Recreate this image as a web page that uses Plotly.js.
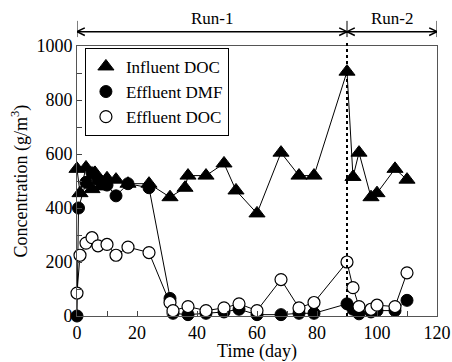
<!DOCTYPE html>
<html>
<head>
<meta charset="utf-8">
<script src="https://cdn.plot.ly/plotly-3.0.1.min.js"></script>
<style>html,body{margin:0;padding:0;background:#fff;}#chart{width:452px;height:362px;}</style>
</head>
<body>
<div id="chart"></div>
<script>
// Influent DOC (triangles)
const inflDays = [0, 1, 3, 5, 6, 8, 10, 13, 17, 24, 31, 36, 37, 43, 49, 53, 60, 68, 74, 79, 90, 92, 94, 98, 100, 106, 110];
const inflDOC  = [545, 455, 550, 470, 530, 480, 510, 505, 490, 490, 440, 475, 520, 520, 565, 465, 380, 605, 520, 520, 905, 515, 605, 440, 455, 545, 505];
// Effluent DMF (filled circles)
const dmfDays = [0, 0.5, 3, 5, 7, 10, 13, 17, 24, 31, 32, 37, 43, 49, 54, 60, 68, 74, 79, 90, 92, 94, 98, 100, 106, 110];
const effDMF  = [0, 400, 495, 530, 505, 485, 445, 490, 475, 65, 10, 5, 10, 15, 25, 5, 5, 10, 10, 45, 25, 8, 15, 20, 20, 58];
// Effluent DOC (open circles)
const docDays = [0, 1, 3, 5, 7, 10, 13, 17, 24, 31, 32, 37, 43, 49, 54, 60, 68, 74, 79, 90, 92, 94, 98, 100, 106, 110];
const effDOC  = [85, 225, 270, 290, 260, 265, 225, 255, 235, 50, 20, 35, 20, 30, 45, 20, 135, 30, 50, 200, 105, 35, 25, 40, 35, 160];
// Run periods
const runNames = ["Run-1", "Run-2"];
const runStart = [0, 90];
const runEnd   = [90, 120];

const FONT = "Liberation Serif";

const series = [
  {x: inflDays, y: inflDOC, name: "Influent DOC",
   marker: {symbol: "triangle-up", size: 14, color: "#000", line: {color: "#000", width: 1}}},
  {x: dmfDays, y: effDMF, name: "Effluent DMF",
   marker: {symbol: "circle", size: 12, color: "#000", line: {color: "#000", width: 1}}},
  {x: docDays, y: effDOC, name: "Effluent DOC",
   marker: {symbol: "circle", size: 12, color: "#fff", line: {color: "#000", width: 1.2}}}
];
const traces = [];
series.forEach(function(s) {
  traces.push({x: s.x, y: s.y, name: s.name, mode: "lines+markers", type: "scatter",
               showlegend: false, line: {color: "#000", width: 1}, marker: s.marker, cliponaxis: false});
});
// legend entries showing markers only
series.forEach(function(s) {
  traces.push({x: [null], y: [null], name: s.name, mode: "markers", type: "scatter",
               showlegend: true, marker: s.marker});
});

const arrowY = 1.053, barTop = 1.093, barBot = 1.033;
const headLen = 2.6, headHalf = 0.014;
const shapes = [];
const annotations = [];
[0, 90, 120].forEach(function(b) {
  shapes.push({type: "line", xref: "x", yref: "paper", x0: b, x1: b, y0: barBot, y1: barTop,
               line: {color: "#000", width: 1}});
});
runNames.forEach(function(name, i) {
  const a = runStart[i], e = runEnd[i];
  shapes.push({type: "line", xref: "x", yref: "paper", x0: a, x1: e, y0: arrowY, y1: arrowY,
               line: {color: "#000", width: 1.5}});
  shapes.push({type: "path", xref: "x", yref: "paper",
    path: "M " + (a + headLen) + " " + (arrowY + headHalf) + " L " + a + " " + arrowY + " L " + (a + headLen) + " " + (arrowY - headHalf),
    line: {color: "#000", width: 1.5}});
  shapes.push({type: "path", xref: "x", yref: "paper",
    path: "M " + (e - headLen) + " " + (arrowY + headHalf) + " L " + e + " " + arrowY + " L " + (e - headLen) + " " + (arrowY - headHalf),
    line: {color: "#000", width: 1.5}});
  annotations.push({x: (a + e) / 2, y: arrowY + 0.006, xref: "x", yref: "paper", text: name,
    showarrow: false, yanchor: "bottom", font: {family: FONT, size: 17, color: "#000"}});
});
// dotted separator at run change
shapes.push({type: "line", xref: "x", yref: "paper", x0: runStart[1], x1: runStart[1], y0: 0, y1: 1.02,
             line: {color: "#000", width: 2, dash: "dot"}});

const layout = {
  width: 452, height: 362,
  margin: {l: 77, r: 15, t: 46, b: 46},
  paper_bgcolor: "#fff", plot_bgcolor: "#fff",
  font: {family: FONT, size: 17, color: "#000"},
  showlegend: true,
  legend: {x: 0.022, y: 0.993, xanchor: "left", yanchor: "top",
           bgcolor: "#fff", bordercolor: "#000", borderwidth: 1,
           font: {family: FONT, size: 17, color: "#000"}},
  xaxis: {range: [0, 120], tickmode: "linear", tick0: 0, dtick: 20,
          ticks: "inside", ticklen: 5, tickcolor: "#444",
          minor: {dtick: 10, ticks: "inside", ticklen: 5, tickcolor: "#444"},
          showline: true, linecolor: "#555", linewidth: 1, mirror: true,
          showgrid: false, zeroline: false,
          tickfont: {family: FONT, size: 18, color: "#000"},
          title: {text: "Time (day)", font: {family: FONT, size: 18, color: "#000"}, standoff: 0}},
  yaxis: {range: [0, 1000], tickmode: "linear", tick0: 0, dtick: 200,
          ticks: "inside", ticklen: 5, tickcolor: "#444",
          minor: {dtick: 100, ticks: "inside", ticklen: 5, tickcolor: "#444"},
          showline: true, linecolor: "#555", linewidth: 1, mirror: true,
          showgrid: false, zeroline: false,
          tickfont: {family: FONT, size: 18, color: "#000"},
          title: {text: "Concentration (g/m<sup>3</sup>)", font: {family: FONT, size: 18, color: "#000"}, standoff: 4}},
  shapes: shapes,
  annotations: annotations
};

Plotly.newPlot("chart", traces, layout, {displayModeBar: false, staticPlot: true});
</script>
</body>
</html>
